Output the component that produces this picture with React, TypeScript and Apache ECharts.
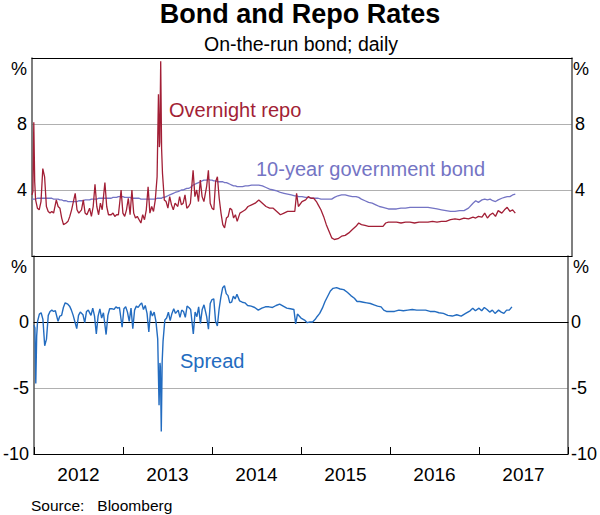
import React, { useEffect, useRef } from "react";
import * as echarts from "echarts";

// decimal-year dates of the readings
const dates = [
  2012.0, 2012.01, 2012.02, 2012.03, 2012.04, 2012.06, 2012.08, 2012.1, 2012.12, 2012.14,
  2012.16, 2012.18, 2012.2, 2012.22, 2012.24, 2012.27, 2012.29, 2012.31, 2012.33, 2012.35,
  2012.38, 2012.4, 2012.42, 2012.44, 2012.46, 2012.48, 2012.5, 2012.52, 2012.55, 2012.57,
  2012.59, 2012.61, 2012.64, 2012.66, 2012.68, 2012.7, 2012.72, 2012.74, 2012.76, 2012.78,
  2012.81, 2012.83, 2012.85, 2012.88, 2012.9, 2012.92, 2012.94, 2012.96, 2012.99, 2013.01,
  2013.03, 2013.05, 2013.07, 2013.09, 2013.11, 2013.13, 2013.15, 2013.17, 2013.19, 2013.21,
  2013.23, 2013.25, 2013.27, 2013.29, 2013.31, 2013.33, 2013.35, 2013.37, 2013.39, 2013.405,
  2013.415, 2013.42, 2013.43, 2013.44, 2013.45, 2013.47, 2013.49, 2013.51, 2013.53, 2013.55,
  2013.57, 2013.59, 2013.62, 2013.64, 2013.66, 2013.68, 2013.7, 2013.72, 2013.74, 2013.76,
  2013.79, 2013.81, 2013.83, 2013.85, 2013.87, 2013.89, 2013.91, 2013.94, 2013.96, 2013.98,
  2014.0, 2014.02, 2014.04, 2014.06, 2014.08, 2014.1, 2014.12, 2014.14, 2014.16, 2014.18,
  2014.2, 2014.22, 2014.24, 2014.26, 2014.28, 2014.31, 2014.34, 2014.37, 2014.4, 2014.44,
  2014.48, 2014.52, 2014.56, 2014.6, 2014.64, 2014.68, 2014.72, 2014.76, 2014.8, 2014.84,
  2014.88, 2014.92, 2014.94, 2014.96, 2015.0, 2015.04, 2015.07, 2015.1, 2015.13, 2015.16,
  2015.18, 2015.21, 2015.24, 2015.27, 2015.3, 2015.33, 2015.36, 2015.4, 2015.44, 2015.48,
  2015.52, 2015.56, 2015.6, 2015.63, 2015.66, 2015.7, 2015.74, 2015.78, 2015.82, 2015.86,
  2015.9, 2015.93, 2015.96, 2016.0, 2016.05, 2016.1, 2016.15, 2016.2, 2016.25, 2016.3,
  2016.35, 2016.4, 2016.45, 2016.5, 2016.55, 2016.6, 2016.65, 2016.7, 2016.75, 2016.8,
  2016.85, 2016.9, 2016.93, 2016.96, 2017.0, 2017.03, 2017.06, 2017.09, 2017.12, 2017.15,
  2017.18, 2017.22, 2017.25, 2017.28, 2017.31, 2017.34, 2017.37,
];

// Overnight repo rate, %
const repo = [
  3.7, 3.9, 8.1, 4.5, 3.4, 2.9, 2.8, 3.3, 5.3, 4.8,
  3.0, 2.7, 2.6, 2.7, 2.6, 3.4, 3.0, 2.9, 2.3, 1.9,
  2.0, 2.1, 2.4, 2.8, 3.3, 3.8, 2.8, 2.6, 2.8, 3.4,
  2.6, 2.5, 2.9, 2.4, 3.0, 4.35, 3.0, 2.5, 3.2, 2.8,
  4.45, 3.0, 2.5, 2.5, 2.6, 2.4, 2.5, 2.5, 4.0, 2.6,
  2.4, 2.8, 3.5, 2.5, 4.0, 2.6, 2.3, 2.4, 2.2, 2.0,
  2.5, 2.2, 2.8, 4.2, 2.6, 3.0, 2.7, 3.4, 4.8, 9.8,
  6.6, 6.9, 11.8, 6.5, 5.0, 3.4, 3.3, 2.9, 3.6, 3.1,
  2.8, 3.2, 3.0, 3.6, 3.1, 3.2, 3.7, 2.9, 3.0, 3.2,
  5.2, 3.6, 4.0, 3.3, 4.6, 3.6, 3.3, 4.2, 5.2, 3.2,
  2.9, 2.8, 4.5, 4.8, 3.5, 2.6, 1.9, 1.7, 2.3, 2.4,
  2.9, 2.8, 2.3, 2.5, 2.1, 2.6, 2.7, 2.8, 3.0, 3.1,
  3.2, 3.4, 3.2, 3.0, 2.9, 2.9, 2.7, 2.5, 2.6, 2.7,
  2.7, 2.7, 3.8, 3.0, 3.3, 3.4, 3.6, 3.5, 3.5, 3.3,
  3.1, 2.8, 2.4, 1.9, 1.5, 1.1, 1.0, 1.05, 1.2, 1.25,
  1.4, 1.6, 1.8, 2.0, 1.9, 1.85, 1.8, 1.8, 1.8, 1.8,
  1.8, 2.0, 2.05, 2.05, 2.05, 2.0, 2.05, 2.05, 2.0, 2.05,
  2.05, 2.05, 2.1, 2.05, 2.1, 2.1, 2.2, 2.25, 2.2, 2.3,
  2.25, 2.35, 2.3, 2.4, 2.35, 2.6, 2.3, 2.5, 2.6, 2.4,
  2.75, 2.6, 2.8, 2.95, 2.7, 2.8, 2.6,
];

// 10-year government bond yield, %
const bond = [
  3.45, 3.45, 3.45, 3.45, 3.45, 3.5, 3.5, 3.5, 3.5, 3.5,
  3.5, 3.5, 3.5, 3.5, 3.45, 3.45, 3.45, 3.4, 3.4, 3.35,
  3.35, 3.3, 3.3, 3.3, 3.3, 3.3, 3.3, 3.35, 3.35, 3.35,
  3.4, 3.4, 3.4, 3.45, 3.45, 3.45, 3.45, 3.5, 3.5, 3.5,
  3.5, 3.5, 3.5, 3.5, 3.55, 3.55, 3.55, 3.6, 3.6, 3.6,
  3.55, 3.55, 3.55, 3.55, 3.5, 3.5, 3.5, 3.5, 3.5, 3.45,
  3.45, 3.45, 3.45, 3.45, 3.45, 3.45, 3.45, 3.45, 3.5, 3.5,
  3.5, 3.5, 3.5, 3.5, 3.55, 3.55, 3.6, 3.65, 3.7, 3.75,
  3.8, 3.85, 3.9, 3.95, 4.0, 4.0, 4.05, 4.1, 4.1, 4.15,
  4.3, 4.35, 4.4, 4.45, 4.5, 4.55, 4.6, 4.6, 4.65, 4.6,
  4.6, 4.55, 4.55, 4.5, 4.5, 4.5, 4.5, 4.45, 4.45, 4.4,
  4.35, 4.3, 4.25, 4.25, 4.2, 4.2, 4.2, 4.25, 4.25, 4.3,
  4.3, 4.3, 4.25, 4.15, 4.05, 4.0, 3.95, 3.85, 3.8, 3.75,
  3.7, 3.65, 3.65, 3.6, 3.6, 3.55, 3.55, 3.5, 3.5, 3.5,
  3.5, 3.45, 3.45, 3.45, 3.45, 3.45, 3.55, 3.65, 3.7, 3.7,
  3.65, 3.6, 3.6, 3.55, 3.45, 3.35, 3.25, 3.2, 3.1, 3.0,
  2.95, 2.9, 2.85, 2.85, 2.85, 2.9, 2.9, 2.95, 2.95, 2.95,
  2.95, 2.95, 2.9, 2.85, 2.8, 2.75, 2.7, 2.7, 2.75, 2.75,
  2.9, 3.2, 3.35, 3.25, 3.4, 3.45, 3.4, 3.45, 3.35, 3.3,
  3.4, 3.5, 3.55, 3.6, 3.6, 3.7, 3.75,
];

// Spread (bond minus repo), percentage points
const spread = [
  -0.25, -0.45, -4.65, -1.05, 0.05, 0.6, 0.7, 0.2, -1.8, -1.3,
  0.5, 0.8, 0.9, 0.8, 0.85, 0.05, 0.45, 0.5, 1.1, 1.45,
  1.35, 1.2, 0.9, 0.5, 0.0, -0.5, 0.5, 0.75, 0.55, -0.05,
  0.8, 0.9, 0.5, 1.05, 0.45, -0.9, 0.45, 1.0, 0.3, 0.7,
  -0.95, 0.5, 1.0, 1.0, 0.95, 1.15, 1.05, 1.1, -0.4, 1.0,
  1.15, 0.75, 0.05, 1.05, -0.5, 0.9, 1.2, 1.1, 1.3, 1.45,
  0.95, 1.25, 0.65, -0.75, 0.85, 0.45, 0.75, 0.05, -1.3, -6.3,
  -3.1, -3.4, -8.3, -3.0, -1.45, 0.15, 0.3, 0.75, 0.1, 0.65,
  1.0, 0.65, 0.9, 0.35, 0.9, 0.8, 0.35, 1.2, 1.1, 0.95,
  -0.9, 0.75, 0.4, 1.15, -0.1, 0.95, 1.3, 0.4, -0.55, 1.4,
  1.7, 1.75, 0.05, -0.3, 1.0, 1.9, 2.6, 2.75, 2.15, 2.0,
  1.45, 1.5, 1.95, 1.75, 2.1, 1.6, 1.5, 1.45, 1.25, 1.2,
  1.1, 0.9, 1.05, 1.15, 1.15, 1.1, 1.25, 1.35, 1.2, 1.05,
  1.0, 0.95, -0.15, 0.6, 0.3, 0.15, -0.05, 0.0, 0.0, 0.2,
  0.4, 0.65, 1.05, 1.55, 1.95, 2.35, 2.55, 2.6, 2.5, 2.45,
  2.25, 2.0, 1.8, 1.55, 1.55, 1.5, 1.45, 1.4, 1.3, 1.2,
  1.15, 0.9, 0.8, 0.8, 0.8, 0.9, 0.85, 0.9, 0.95, 0.9,
  0.9, 0.9, 0.8, 0.8, 0.7, 0.65, 0.5, 0.45, 0.55, 0.45,
  0.65, 0.85, 1.05, 0.85, 1.05, 0.85, 1.1, 0.95, 0.75, 0.9,
  0.65, 0.9, 0.75, 0.65, 0.9, 0.9, 1.15,
];

const yearLabels = ["2012", "2013", "2014", "2015", "2016", "2017"];

const topTicks = { min: 0, max: 12, interval: 4 };
const bottomTicks = { min: -10, max: 5, interval: 5 };

const RED = "#a21f36";
const LAVENDER = "#7474c4";
const BLUE = "#236cc0";
const FONT = "Liberation Sans, Arial, Helvetica, sans-serif";

export default function App() {
  const ref = useRef<HTMLDivElement>(null);

  useEffect(() => {
    if (!ref.current) return;
    const chart = echarts.init(ref.current, undefined, { renderer: "svg" });

    const gridL = 32;
    const gridR = 28;
    const topGrid = { left: gridL, right: gridR, top: 58, height: 198 };
    const botGrid = { left: gridL, right: gridR, top: 256, height: 198 };

    const hiddenX = (gridIndex: number, extra: any = {}) => ({
      type: "value",
      gridIndex,
      min: 2012,
      max: 2018,
      axisTick: { show: false },
      axisLabel: { show: false },
      splitLine: { show: false },
      axisLine: { show: true, lineStyle: { color: "#000", width: 1 } },
      ...extra,
    });

    const yAx = (gridIndex: number, ticks: any, position: string, hideVals: number[], split: boolean) => ({
      type: "value",
      gridIndex,
      position,
      min: ticks.min,
      max: ticks.max,
      interval: ticks.interval,
      axisLine: { show: true, onZero: false, lineStyle: { color: "#555", width: 1.5 } },
      axisTick: { show: false },
      splitLine: { show: split, lineStyle: { color: "#b0b0b0", width: 1 } },
      axisLabel: {
        fontSize: 18,
        color: "#000",
        fontFamily: FONT,
        margin: position === "left" ? 5 : 3,
        formatter: (v: number) => (hideVals.includes(v) ? "" : String(v)),
      },
    });

    const pct = (x: number, y: number, align: string) => ({
      type: "text",
      x,
      y,
      style: {
        text: "%",
        fontSize: 18,
        fontFamily: FONT,
        fill: "#000",
        textAlign: align,
        textVerticalAlign: "middle",
      },
    });

    const label = (text: string, x: number, y: number, color: string) => ({
      type: "text",
      x,
      y,
      style: {
        text,
        fontSize: 20,
        fontFamily: FONT,
        fill: color,
        textAlign: "left",
        textVerticalAlign: "middle",
      },
    });

    const pairs = (vals: number[]) => dates.map((d, i) => [d, vals[i]]);

    chart.setOption({
      animation: false,
      backgroundColor: "#fff",
      grid: [topGrid, botGrid],
      xAxis: [
        hiddenX(0, { position: "bottom", axisLine: { show: true, onZero: false, lineStyle: { color: "#000", width: 1.2 } } }),
        hiddenX(0, { position: "top", axisLine: { show: true, onZero: false, lineStyle: { color: "#000", width: 1.2 } } }),
        hiddenX(1, { position: "bottom", axisLine: { show: true, onZero: true, lineStyle: { color: "#000", width: 1.2 } } }),
        {
          type: "category",
          gridIndex: 1,
          position: "bottom",
          data: yearLabels,
          boundaryGap: true,
          axisLine: { show: true, onZero: false, lineStyle: { color: "#000", width: 1.2 } },
          axisTick: { show: true, inside: true, length: 7, interval: 0, lineStyle: { color: "#000" } },
          axisLabel: { fontSize: 19, color: "#000", fontFamily: FONT, margin: 11 },
          splitLine: { show: false },
        },
      ],
      yAxis: [
        yAx(0, topTicks, "left", [0, 12], true),
        yAx(0, topTicks, "right", [0, 12], false),
        yAx(1, bottomTicks, "left", [5], true),
        yAx(1, bottomTicks, "right", [5], false),
      ],
      series: [
        {
          type: "line",
          name: "10-year government bond",
          xAxisIndex: 0,
          yAxisIndex: 0,
          data: pairs(bond),
          showSymbol: false,
          symbol: "none",
          lineStyle: { color: LAVENDER, width: 1.3 },
          z: 3,
        },
        {
          type: "line",
          name: "Overnight repo",
          xAxisIndex: 0,
          yAxisIndex: 0,
          data: pairs(repo),
          showSymbol: false,
          symbol: "none",
          lineStyle: { color: RED, width: 1.3 },
          z: 4,
        },
        {
          type: "line",
          name: "Spread",
          xAxisIndex: 2,
          yAxisIndex: 2,
          data: pairs(spread),
          showSymbol: false,
          symbol: "none",
          lineStyle: { color: BLUE, width: 1.4 },
          z: 3,
        },
      ],
      graphic: [
        {
          type: "text",
          x: 300,
          y: 14,
          style: {
            text: "Bond and Repo Rates",
            fontSize: 27,
            fontWeight: "bold",
            fontFamily: FONT,
            fill: "#000",
            textAlign: "center",
            textVerticalAlign: "middle",
          },
        },
        {
          type: "text",
          x: 301,
          y: 44,
          style: {
            text: "On-the-run bond; daily",
            fontSize: 19.5,
            fontFamily: FONT,
            fill: "#000",
            textAlign: "center",
            textVerticalAlign: "middle",
          },
        },
        pct(19, 69, "center"),
        pct(581, 69, "center"),
        pct(19, 267, "center"),
        pct(581, 267, "center"),
        label("Overnight repo", 169, 110, RED),
        label("10-year government bond", 256, 169, LAVENDER),
        label("Spread", 180, 361, BLUE),
        {
          type: "text",
          x: 31,
          y: 505,
          style: {
            text: "Source:   Bloomberg",
            fontSize: 15.5,
            fontFamily: FONT,
            fill: "#000",
            textAlign: "left",
            textVerticalAlign: "middle",
          },
        },
      ],
    });

    return () => chart.dispose();
  }, []);

  return (
    <div
      ref={ref}
      style={{ position: "fixed", left: 0, top: 0, width: 600, height: 515, background: "#fff" }}
    />
  );
}
